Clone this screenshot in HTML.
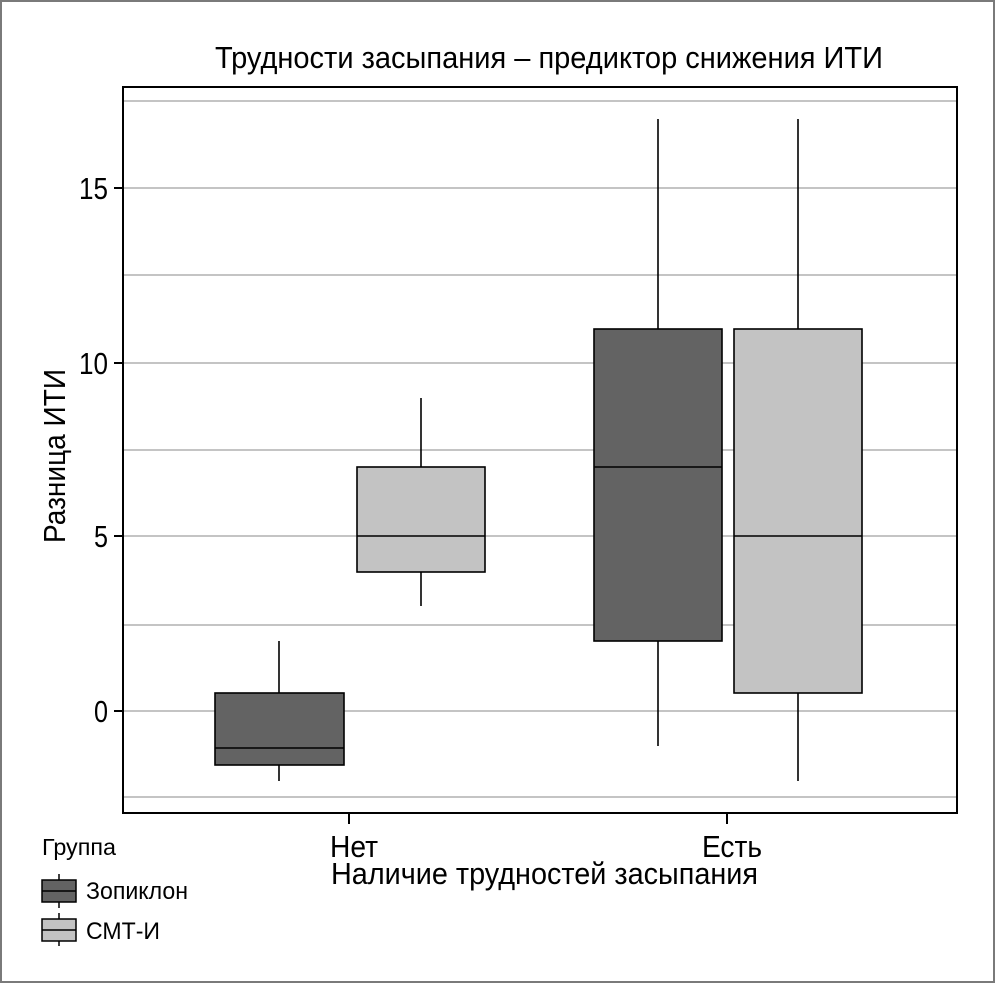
<!DOCTYPE html>
<html><head><meta charset="utf-8"><style>
html,body{margin:0;padding:0;background:#fff}
svg{display:block}
text{font-family:"Liberation Sans",sans-serif;fill:#000}
</style></head><body>
<svg width="995" height="983" viewBox="0 0 995 983" xmlns="http://www.w3.org/2000/svg">
<rect x="1" y="1" width="993" height="981" fill="#fff" stroke="#7a7a7a" stroke-width="2"/>
<text x="215" y="68" font-size="31" textLength="668" lengthAdjust="spacingAndGlyphs">Трудности засыпания – предиктор снижения ИТИ</text>
<g stroke="#c4c4c4" stroke-width="2">
<line x1="123" x2="957" y1="101" y2="101"/><line x1="123" x2="957" y1="188" y2="188"/>
<line x1="123" x2="957" y1="275" y2="275"/><line x1="123" x2="957" y1="363" y2="363"/>
<line x1="123" x2="957" y1="450" y2="450"/><line x1="123" x2="957" y1="536" y2="536"/>
<line x1="123" x2="957" y1="625" y2="625"/><line x1="123" x2="957" y1="711" y2="711"/>
<line x1="123" x2="957" y1="797" y2="797"/>
</g>
<g stroke="#000" stroke-width="1.6">
<line x1="279" x2="279" y1="641" y2="781"/>
<rect x="215" y="693" width="129" height="72" fill="#636363"/>
<line x1="215" x2="344" y1="748" y2="748"/>
<line x1="421" x2="421" y1="398" y2="606"/>
<rect x="357" y="467" width="128" height="105" fill="#c3c3c3"/>
<line x1="357" x2="485" y1="536" y2="536"/>
<line x1="658" x2="658" y1="119" y2="746"/>
<rect x="594" y="329" width="128" height="312" fill="#636363"/>
<line x1="594" x2="722" y1="467" y2="467"/>
<line x1="798" x2="798" y1="119" y2="781"/>
<rect x="734" y="329" width="128" height="364" fill="#c3c3c3"/>
<line x1="734" x2="862" y1="536" y2="536"/>
</g>
<rect x="123" y="87" width="834" height="726" fill="none" stroke="#000" stroke-width="2"/>
<g stroke="#000" stroke-width="2">
<line x1="114" x2="122" y1="188" y2="188"/><line x1="114" x2="122" y1="363" y2="363"/>
<line x1="114" x2="122" y1="536" y2="536"/><line x1="114" x2="122" y1="711" y2="711"/>
<line x1="349" x2="349" y1="814" y2="824"/><line x1="727" x2="727" y1="814" y2="824"/>
</g>
<g font-size="31">
<text x="79" y="199" textLength="29" lengthAdjust="spacingAndGlyphs">15</text>
<text x="79" y="374" textLength="29" lengthAdjust="spacingAndGlyphs">10</text>
<text x="94" y="547" textLength="14" lengthAdjust="spacingAndGlyphs">5</text>
<text x="94" y="722" textLength="14" lengthAdjust="spacingAndGlyphs">0</text>
</g>
<text x="330" y="857" font-size="31" textLength="48" lengthAdjust="spacingAndGlyphs">Нет</text>
<text x="702" y="857" font-size="31" textLength="60" lengthAdjust="spacingAndGlyphs">Есть</text>
<text x="331" y="884" font-size="31" textLength="427" lengthAdjust="spacingAndGlyphs">Наличие трудностей засыпания</text>
<text transform="translate(65,543) rotate(-90)" font-size="31" textLength="174" lengthAdjust="spacingAndGlyphs">Разница ИТИ</text>
<text x="42" y="855" font-size="23" textLength="74" lengthAdjust="spacingAndGlyphs">Группа</text>
<g stroke="#000" stroke-width="1.5">
<line x1="59" x2="59" y1="874" y2="908"/>
<rect x="42" y="880" width="34" height="22" fill="#636363"/>
<line x1="42" x2="76" y1="891" y2="891"/>
<line x1="59" x2="59" y1="913" y2="946"/>
<rect x="42" y="919" width="34" height="22" fill="#c3c3c3"/>
<line x1="42" x2="76" y1="930" y2="930"/>
</g>
<text x="86" y="899" font-size="24" textLength="102" lengthAdjust="spacingAndGlyphs">Зопиклон</text>
<text x="86" y="939" font-size="24" textLength="74" lengthAdjust="spacingAndGlyphs">СМТ-И</text>
</svg>
</body></html>
